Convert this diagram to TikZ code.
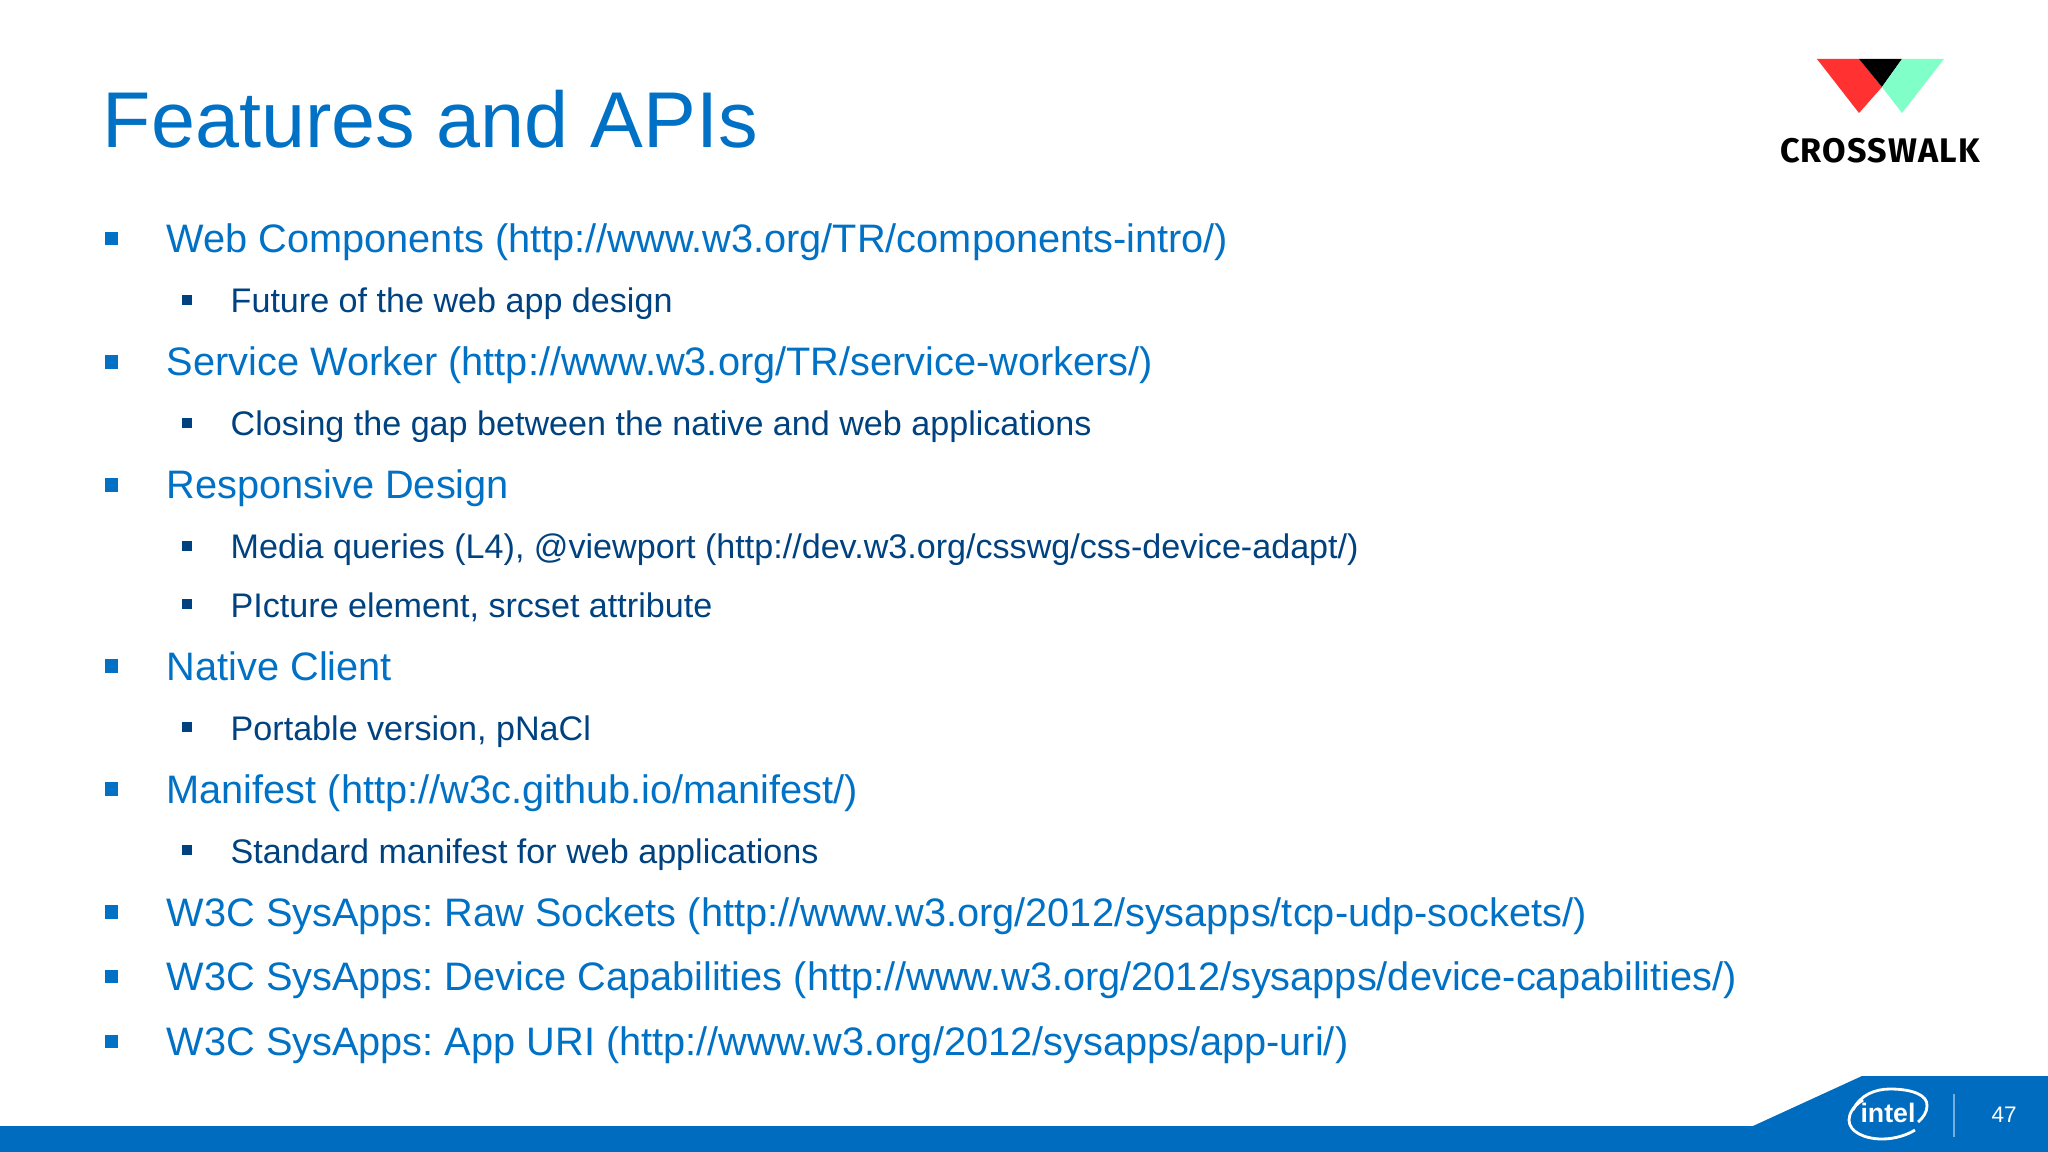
\documentclass[tikz,border=0pt]{standalone}
\usepackage{fontspec}
\setmainfont{Liberation Sans}
\newfontfamily\logofont[LetterSpace=3.5]{Fira Sans}
\definecolor{intelblue}{HTML}{0071C5}
\definecolor{inteldark}{HTML}{004280}
\definecolor{barblue}{HTML}{006CBF}
\definecolor{logored}{HTML}{FF3131}
\definecolor{logogreen}{HTML}{80FFC8}
\tikzset{
  slidetitle/.style={anchor=base west,inner sep=0pt,text=intelblue,font=\fontsize{22.5}{26}\selectfont},
  itemone/.style={anchor=base west,inner sep=0pt,text=intelblue,font=\fontsize{11.3}{13}\selectfont\frenchspacing},
  itemtwo/.style={anchor=base west,inner sep=0pt,text=inteldark,font=\fontsize{9.7}{11}\selectfont\frenchspacing},
  markone/.style={rectangle,fill=intelblue,inner sep=0pt,minimum size=0.13cm},
  marktwo/.style={rectangle,fill=inteldark,inner sep=0pt,minimum size=0.10cm},
}
\begin{document}
\begin{tikzpicture}[x=0.01cm,y=-0.01cm]
  \useasboundingbox (0,0) rectangle (2048,1152);
  % title
  \node[slidetitle](title)at(102,148){Features and APIs};
  % logo
  \fill[logored] (1817,59) -- (1859,59) -- (1882,87) -- (1859,113) -- cycle;
  \fill[black] (1859,59) -- (1902,59) -- (1882,87) -- cycle;
  \fill[logogreen] (1902,59) -- (1944,59) -- (1902,113) -- (1882,87) -- cycle;
  \node[anchor=base,inner sep=0pt,font=\logofont\bfseries\fontsize{9.7}{11}\selectfont](logo)at(1880,163){CROSSWALK};
  % first level
  \node[markone](m1)at(111.5,239){};
  \node[itemone](t1)at(166,253){Web Components (http://www.w3.org/TR/components-intro/)};
  \node[marktwo](m2)at(187,300){};
  \node[itemtwo](t2)at(230,313){Future of the web app design};
  \node[markone](m3)at(111.5,362){};
  \node[itemone](t3)at(166,376){Service Worker (http://www.w3.org/TR/service-workers/)};
  \node[marktwo](m4)at(187,423){};
  \node[itemtwo](t4)at(230,436){Closing the gap between the native and web applications};
  \node[markone](m5)at(111.5,485){};
  \node[itemone](t5)at(166,499){Responsive Design};
  \node[marktwo](m6)at(187,546){};
  \node[itemtwo](t6)at(230,559){Media queries (L4), @viewport (http://dev.w3.org/csswg/css-device-adapt/)};
  \node[marktwo](m7)at(187,604){};
  \node[itemtwo](t7)at(230,617){PIcture element, srcset attribute};
  \node[markone](m8)at(111.5,666){};
  \node[itemone](t8)at(166,680){Native Client};
  \node[marktwo](m9)at(187,727){};
  \node[itemtwo](t9)at(230,740){Portable version, pNaCl};
  \node[markone](m10)at(111.5,789){};
  \node[itemone](t10)at(166,803){Manifest (http://w3c.github.io/manifest/)};
  \node[marktwo](m11)at(187,850){};
  \node[itemtwo](t11)at(230,863){Standard manifest for web applications};
  \node[markone](m12)at(111.5,912){};
  \node[itemone](t12)at(166,926){W3C SysApps: Raw Sockets (http://www.w3.org/2012/sysapps/tcp-udp-sockets/)};
  \node[markone](m13)at(111.5,976){};
  \node[itemone](t13)at(166,990){W3C SysApps: Device Capabilities (http://www.w3.org/2012/sysapps/device-capabilities/)};
  \node[markone](m14)at(111.5,1041){};
  \node[itemone](t14)at(166,1055){W3C SysApps: App URI (http://www.w3.org/2012/sysapps/app-uri/)};
  % footer
  \fill[barblue] (0,1152) -- (0,1126) -- (1753,1126) -- (1862,1076) -- (2048,1076) -- (2048,1152) -- cycle;
  \node[inner sep=0pt,text=white,font=\bfseries\fontsize{7.6}{9}\selectfont](brand)at(1888,1113){intel};
  \draw[white,line width=0.8pt] (1853,1110) .. controls (1860,1095) and (1875,1089) .. (1890,1089) .. controls (1912,1089) and (1928,1095) .. (1927,1106) .. controls (1927,1112) and (1923,1118) .. (1918,1122);
  \draw[white,line width=0.8pt] (1863,1100) .. controls (1853,1106) and (1849,1114) .. (1849,1120) .. controls (1849,1132) and (1865,1139) .. (1882,1139) .. controls (1895,1139) and (1907,1135) .. (1915,1130);
  \draw[white!45!barblue,line width=0.6pt] (1954,1094) -- (1954,1137);
  \node[inner sep=0pt,text=white,font=\fontsize{6.4}{8}\selectfont](page)at(2004,1115){47};
\end{tikzpicture}
\end{document}
